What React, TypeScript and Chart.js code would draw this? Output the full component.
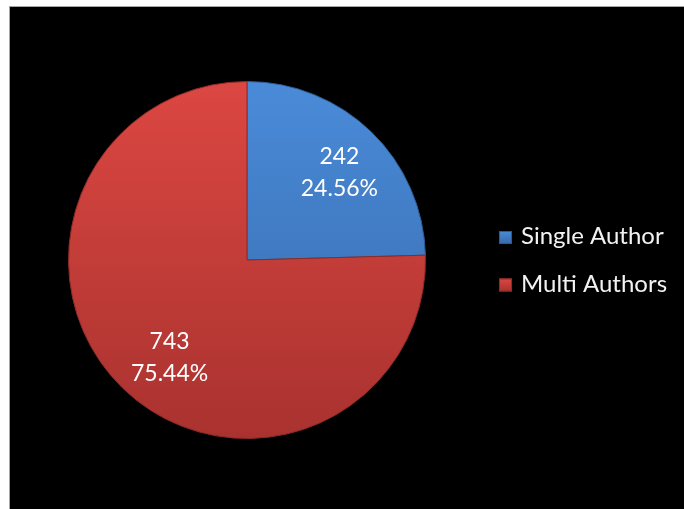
import React, { useEffect, useRef } from "react";
import { Chart, registerables } from "chart.js";

Chart.register(...registerables);

const categories = ["Single Author", "Multi Authors"];
const counts = [242, 743];
const percentLabels = ["24.56%", "75.44%"];
const topColors = ["#4A8BD9", "#DC4742"];
const bottomColors = ["#3668A8", "#A9322F"];
const borderColors = ["#2E5A92", "#8E2A27"];

const FONT = "Lato, 'Open Sans', sans-serif";
const LABEL_NUDGE = [
  [4, 3],
  [11, 7],
];

function grad(chart: any, i: number) {
  const area = chart.chartArea;
  if (!area) return topColors[i];
  const g = chart.ctx.createLinearGradient(0, area.top, 0, area.bottom);
  g.addColorStop(0, topColors[i]);
  g.addColorStop(1, bottomColors[i]);
  return g;
}

const labelPlugin = {
  id: "sliceLabels",
  afterDatasetsDraw(chart: any) {
    const ctx = chart.ctx;
    const meta = chart.getDatasetMeta(0);
    ctx.save();
    ctx.fillStyle = "#FFFFFF";
    ctx.font = `23px ${FONT}`;
    ctx.textAlign = "center";
    ctx.textBaseline = "middle";
    meta.data.forEach((arc: any, i: number) => {
      const p = arc.getProps(["x", "y", "startAngle", "endAngle", "outerRadius"], true);
      const mid = (p.startAngle + p.endAngle) / 2;
      const r = p.outerRadius * 0.71;
      const cx = p.x + Math.cos(mid) * r + LABEL_NUDGE[i][0];
      const cy = p.y + Math.sin(mid) * r + LABEL_NUDGE[i][1];
      ctx.fillText(String(chart.data.datasets[0].data[i]), cx, cy - 16);
      ctx.fillText(percentLabels[i], cx, cy + 16);
    });
    ctx.restore();
  },
};

const legendPlugin = {
  id: "sideLegend",
  afterDraw(chart: any) {
    const ctx = chart.ctx;
    const labels = chart.data.labels as string[];
    ctx.save();
    ctx.font = `24px ${FONT}`;
    ctx.textBaseline = "alphabetic";
    ctx.textAlign = "left";
    labels.forEach((lab, i) => {
      const mx = 489;
      const my = 224 + i * 47.5;
      const s = 13;
      const g = ctx.createLinearGradient(0, my, 0, my + s);
      g.addColorStop(0, topColors[i]);
      g.addColorStop(1, bottomColors[i]);
      ctx.fillStyle = g;
      ctx.fillRect(mx, my, s, s);
      ctx.strokeStyle = borderColors[i];
      ctx.lineWidth = 1;
      ctx.strokeRect(mx + 0.5, my + 0.5, s - 1, s - 1);
      ctx.fillStyle = "#F2F2F2";
      ctx.fillText(lab, 511, my + 13);
    });
    ctx.restore();
  },
};

export default function App() {
  const ref = useRef<HTMLCanvasElement>(null);
  useEffect(() => {
    if (!ref.current) return;
    const chart = new Chart(ref.current, {
      type: "pie",
      data: {
        labels: categories,
        datasets: [
          {
            data: counts,
            backgroundColor: (c: any) => grad(c.chart, c.dataIndex),
            borderColor: borderColors,
            borderWidth: 1,
          },
        ],
      },
      options: {
        responsive: false,
        animation: false,
        layout: { padding: { left: 58, top: 74, right: 258, bottom: 70 } },
        plugins: {
          legend: { display: false },
          tooltip: { enabled: false },
        },
      },
      plugins: [labelPlugin, legendPlugin],
    });
    return () => chart.destroy();
  }, []);
  return (
    <div
      style={{
        position: "absolute",
        left: 9,
        top: 6,
        width: 674,
        height: 502,
        background: "#000",
        borderTop: "1px solid #A6A6A6",
        borderLeft: "1px solid #A6A6A6",
      }}
    >
      <canvas ref={ref} width={674} height={502} style={{ display: "block" }} />
    </div>
  );
}
